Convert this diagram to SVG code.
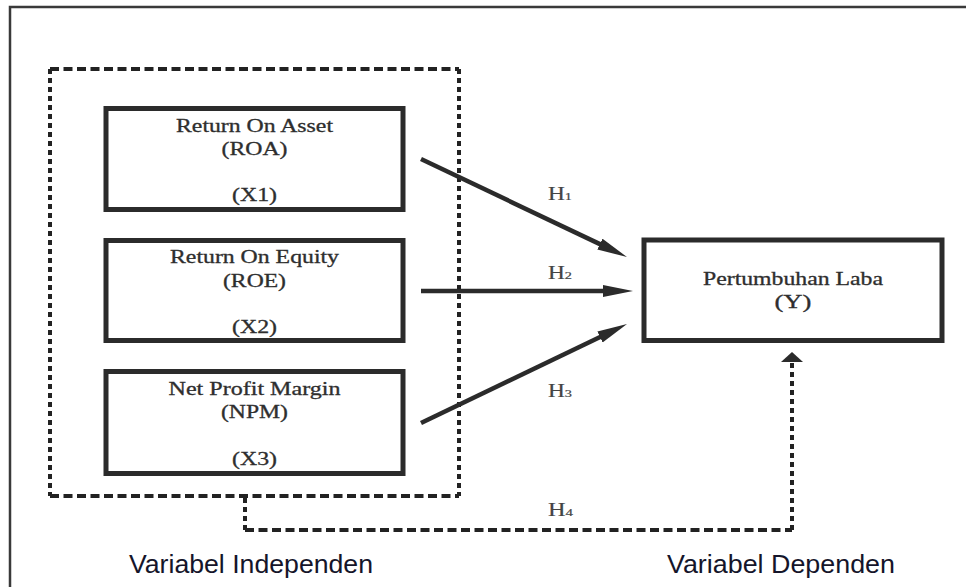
<svg xmlns="http://www.w3.org/2000/svg" width="966" height="587" viewBox="0 0 966 587">
  <style>
    .box { fill: #fff; stroke: #2b2b2b; stroke-width: 5; }
    .t { font-family: "Liberation Serif", "Times New Roman", serif; font-size: 18px; fill: #2e2e2e; stroke: #2e2e2e; stroke-width: 0.3; text-anchor: middle; }
    .h { font-family: "Liberation Serif", "Times New Roman", serif; font-size: 18px; fill: #444; stroke: #444; stroke-width: 0.2; }
    .sub { font-size: 11px; }
    .lab { font-family: "Liberation Sans", Arial, sans-serif; font-size: 25px; fill: #15152a; text-anchor: middle; }
    .arrow { stroke: #2b2b2b; stroke-width: 4.5; fill: none; marker-end: url(#ah); }
    .dh { stroke: #222; stroke-width: 4; fill: none; stroke-dasharray: 9 4.5; }
    .dv { stroke: #222; stroke-width: 4; fill: none; stroke-dasharray: 5 4; }
  </style>
  <defs>
    <marker id="ah" markerUnits="userSpaceOnUse" markerWidth="32" markerHeight="14" refX="10" refY="6.5" orient="auto">
      <path d="M0,0.5 L30,6.5 L0,12.5 Z" fill="#2b2b2b"/>
    </marker>
    <marker id="ahd" markerUnits="userSpaceOnUse" markerWidth="12" markerHeight="24" refX="1" refY="11" orient="auto">
      <path d="M0,0 L10,11 L0,22 Z" fill="#2b2b2b"/>
    </marker>
  </defs>
  <rect width="966" height="587" fill="#fff"/>

  <g id="frame">
    <path d="M10,587 V7 H966" fill="none" stroke="#3a3a3a" stroke-width="2.5"/>
  </g>

  <g id="independent-group">
    <line class="dh" x1="50" y1="69" x2="459" y2="69"/>
    <line class="dh" x1="50" y1="496" x2="459" y2="496"/>
    <line class="dv" x1="50" y1="69" x2="50" y2="496"/>
    <line class="dv" x1="459" y1="69" x2="459" y2="496"/>
    <text class="lab" x="251" y="573" textLength="244" lengthAdjust="spacingAndGlyphs">Variabel Independen</text>
  </g>

  <g id="roa">
    <rect class="box" x="106" y="108.5" width="297" height="101"/>
    <text class="t" x="254.5" y="132" textLength="157" lengthAdjust="spacingAndGlyphs">Return On Asset</text>
    <text class="t" x="254.5" y="155" textLength="66" lengthAdjust="spacingAndGlyphs">(ROA)</text>
    <text class="t" x="254.5" y="201" textLength="45" lengthAdjust="spacingAndGlyphs">(X1)</text>
  </g>

  <g id="roe">
    <rect class="box" x="106" y="240.5" width="297" height="100"/>
    <text class="t" x="254.5" y="263" textLength="169" lengthAdjust="spacingAndGlyphs">Return On Equity</text>
    <text class="t" x="254.5" y="287" textLength="63" lengthAdjust="spacingAndGlyphs">(ROE)</text>
    <text class="t" x="254.5" y="333" textLength="45" lengthAdjust="spacingAndGlyphs">(X2)</text>
  </g>

  <g id="npm">
    <rect class="box" x="106" y="371.5" width="297" height="102"/>
    <text class="t" x="254.5" y="395" textLength="172" lengthAdjust="spacingAndGlyphs">Net Profit Margin</text>
    <text class="t" x="254.5" y="418" textLength="67" lengthAdjust="spacingAndGlyphs">(NPM)</text>
    <text class="t" x="254.5" y="465" textLength="45" lengthAdjust="spacingAndGlyphs">(X3)</text>
  </g>

  <g id="pertumbuhan-laba">
    <rect class="box" x="644" y="240" width="298" height="100.5"/>
    <text class="t" x="793" y="285" textLength="180" lengthAdjust="spacingAndGlyphs">Pertumbuhan Laba</text>
    <text class="t" x="793" y="308" textLength="37" lengthAdjust="spacingAndGlyphs">(Y)</text>
    <text class="lab" x="781" y="573" textLength="228" lengthAdjust="spacingAndGlyphs">Variabel Dependen</text>
  </g>

  <g id="connectors">
    <line class="arrow" x1="421" y1="159" x2="608.9" y2="248.4"/>
    <line class="arrow" x1="421" y1="291" x2="613" y2="291"/>
    <line class="arrow" x1="421" y1="423" x2="609" y2="332.7"/>
    <line class="dv" x1="245" y1="498" x2="245" y2="530"/>
    <line class="dh" x1="245" y1="530" x2="792" y2="530"/>
    <line class="dv" x1="792" y1="530" x2="792" y2="361" style="marker-end:url(#ahd)"/>
    <text class="h" x="548" y="200" textLength="24" lengthAdjust="spacingAndGlyphs">H<tspan class="sub">1</tspan></text>
    <text class="h" x="548" y="279" textLength="24" lengthAdjust="spacingAndGlyphs">H<tspan class="sub">2</tspan></text>
    <text class="h" x="548" y="397" textLength="24" lengthAdjust="spacingAndGlyphs">H<tspan class="sub">3</tspan></text>
    <text class="h" x="548" y="516" textLength="25" lengthAdjust="spacingAndGlyphs">H<tspan class="sub">4</tspan></text>
  </g>
</svg>
